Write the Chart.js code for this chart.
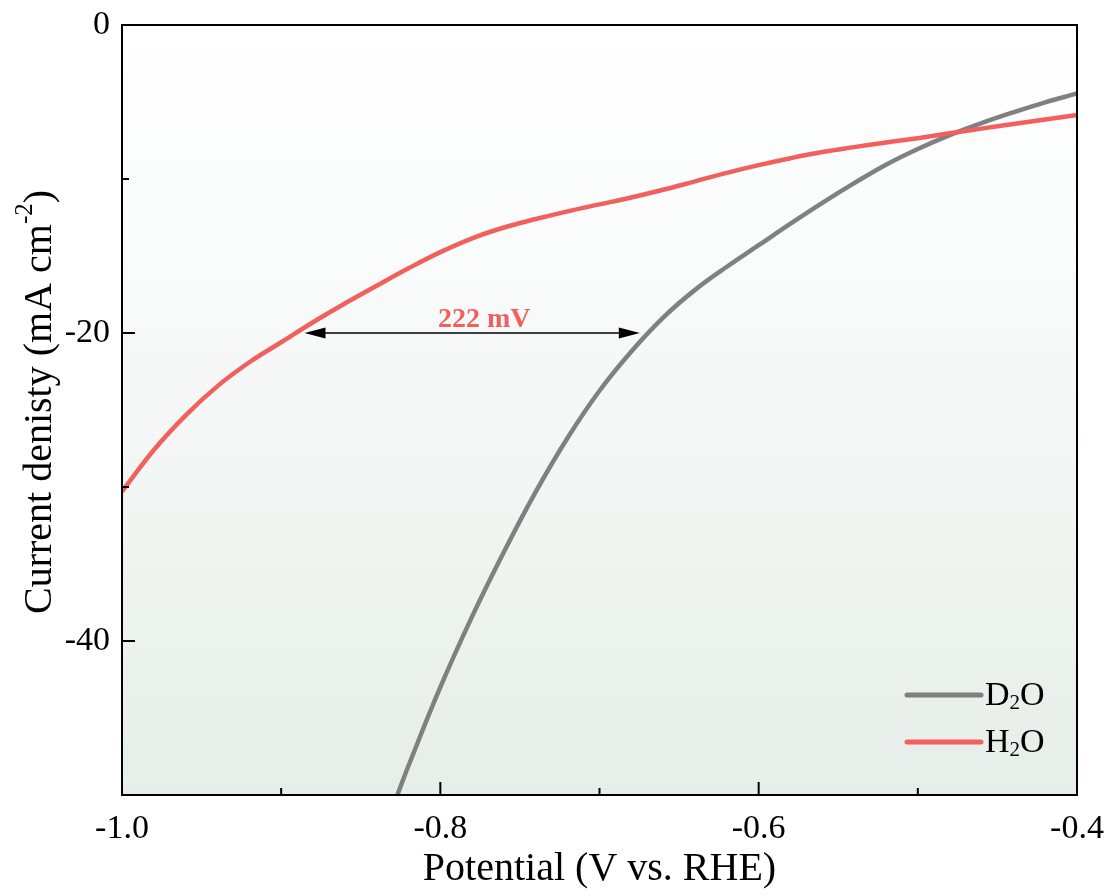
<!DOCTYPE html>
<html>
<head>
<meta charset="utf-8">
<title>LSV polarization curves in H2O and D2O</title>
<script src="https://cdn.jsdelivr.net/npm/chart.js@4.4.1/dist/chart.umd.min.js"></script>
<style>
  html, body { margin: 0; padding: 0; background: #ffffff; }
  #wrap { width: 1112px; height: 896px; }
</style>
</head>
<body>
<div id="wrap"><canvas id="lsv" width="1112" height="896"></canvas></div>
<script>
// Polarization data: potential (V vs. RHE) and current density (mA cm^-2)
const potentialD2O = [-0.827, -0.82, -0.80, -0.78, -0.76, -0.74, -0.72, -0.70, -0.68, -0.66,
                      -0.64, -0.62, -0.60, -0.58, -0.56, -0.54, -0.52, -0.50, -0.48, -0.46,
                      -0.44, -0.42, -0.40];
const currentD2O   = [-50.0, -48.1, -43.0, -38.4, -34.2, -30.3, -26.8, -23.75, -21.2, -19.0,
                      -17.2, -15.7, -14.3, -12.9, -11.55, -10.27, -9.07, -8.05, -7.15, -6.37,
                      -5.67, -5.02, -4.45];

const potentialH2O = [-1.00, -0.98, -0.96, -0.94, -0.92, -0.90, -0.88, -0.86, -0.84, -0.82,
                      -0.80, -0.78, -0.76, -0.74, -0.72, -0.70, -0.68, -0.66, -0.64, -0.62,
                      -0.60, -0.58, -0.56, -0.54, -0.52, -0.50, -0.48, -0.46, -0.44, -0.42, -0.40];
const currentH2O   = [-30.3, -27.6, -25.35, -23.45, -21.9, -20.6, -19.3, -18.08, -16.93, -15.8,
                      -14.75, -13.85, -13.15, -12.6, -12.1, -11.65, -11.2, -10.7, -10.15, -9.6,
                      -9.1, -8.65, -8.25, -7.93, -7.63, -7.35, -7.03, -6.73, -6.43, -6.13, -5.85];

const seriesLabels = ['D_2O', 'H_2O'];
const seriesColors = ['#808080', '#F2605D'];

// Axis ticks
const xMajorTicks = [-1.0, -0.8, -0.6, -0.4];
const xMinorTicks = [-0.9, -0.7, -0.5];
const yMajorTicks = [0, -20, -40];
const yMinorTicks = [-10, -30];

// Overpotential gap marked at -20 mA cm^-2
const gapStart = -0.891;   // V, where the H2O curve reaches gapLevel
const gapMV = 222;         // mV
const gapLevel = -20;      // mA cm^-2

const FONT = "'Liberation Serif', 'Times New Roman', serif";

function toPoints(xs, ys) { return xs.map((x, i) => ({ x: x, y: ys[i] })); }

// Draws text where "_2" makes a subscript and "^{-2}" a superscript
function richText(ctx, text, x, y, size, align) {
  const parts = [];
  const re = /_(\w)|\^\{([^}]*)\}/g;
  let last = 0, m;
  while ((m = re.exec(text)) !== null) {
    if (m.index > last) parts.push({ t: text.slice(last, m.index), k: 0 });
    if (m[1] !== undefined) parts.push({ t: m[1], k: 1 });
    else parts.push({ t: m[2], k: -1 });
    last = re.lastIndex;
  }
  if (last < text.length) parts.push({ t: text.slice(last), k: 0 });
  const small = Math.round(size * 0.62);
  let total = 0;
  parts.forEach(p => {
    ctx.font = (p.k === 0 ? size : small) + 'px ' + FONT;
    p.w = ctx.measureText(p.t).width;
    total += p.w;
  });
  let cx = align === 'center' ? x - total / 2 : (align === 'right' ? x - total : x);
  ctx.textAlign = 'left';
  parts.forEach(p => {
    ctx.font = (p.k === 0 ? size : small) + 'px ' + FONT;
    const dy = p.k === 1 ? size * 0.22 : (p.k === -1 ? -size * 0.36 : 0);
    ctx.fillText(p.t, cx, y + dy);
    cx += p.w;
  });
}

// Scales keep no extra room for overhanging labels; the layout padding covers it
function noScalePadding(s) {
  s.paddingTop = 0; s.paddingBottom = 0; s.paddingLeft = 0; s.paddingRight = 0;
}

const framePlugin = {
  id: 'frame',
  beforeDatasetsDraw(chart) {
    const { ctx, chartArea: a } = chart;
    const g = ctx.createLinearGradient(0, a.top, 0, a.bottom);
    g.addColorStop(0, '#ffffff');
    g.addColorStop(0.3, '#fafbfb');
    g.addColorStop(1, '#e6eee9');
    ctx.save();
    ctx.fillStyle = g;
    ctx.fillRect(a.left, a.top, a.right - a.left, a.bottom - a.top);
    ctx.restore();
  },
  afterDatasetsDraw(chart) {
    const { ctx, chartArea: a, scales } = chart;
    const xs = scales.x, ys = scales.y;
    ctx.save();

    // Overpotential arrow and label
    const x1 = xs.getPixelForValue(gapStart) + 9;
    const x2 = xs.getPixelForValue(gapStart + gapMV / 1000) - 9;
    const yy = ys.getPixelForValue(gapLevel);
    ctx.strokeStyle = '#000';
    ctx.fillStyle = '#000';
    ctx.lineWidth = 1.5;
    ctx.beginPath();
    ctx.moveTo(x1 + 10, yy);
    ctx.lineTo(x2 - 10, yy);
    ctx.stroke();
    ctx.beginPath();
    ctx.moveTo(x1, yy); ctx.lineTo(x1 + 21, yy - 5.5); ctx.lineTo(x1 + 21, yy + 5.5); ctx.closePath();
    ctx.fill();
    ctx.beginPath();
    ctx.moveTo(x2, yy); ctx.lineTo(x2 - 21, yy - 5.5); ctx.lineTo(x2 - 21, yy + 5.5); ctx.closePath();
    ctx.fill();
    ctx.fillStyle = seriesColors[1];
    ctx.font = 'bold 28px ' + FONT;
    ctx.textAlign = 'center';
    ctx.textBaseline = 'alphabetic';
    ctx.fillText(gapMV + ' mV', (x1 + x2) / 2 + 12, yy - 6);

    // Legend
    chart.data.datasets.forEach((ds, i) => {
      const ly = 695 + i * 47;
      ctx.strokeStyle = ds.borderColor;
      ctx.lineWidth = 5;
      ctx.lineCap = 'round';
      ctx.beginPath();
      ctx.moveTo(907, ly);
      ctx.lineTo(981, ly);
      ctx.stroke();
      ctx.fillStyle = '#000';
      ctx.textBaseline = 'middle';
      richText(ctx, ds.label, 985, ly + 1, 34, 'left');
    });

    // Inward tick marks on bottom and left axes
    ctx.strokeStyle = '#000';
    ctx.lineWidth = 2;
    ctx.lineCap = 'butt';
    ctx.beginPath();
    xMajorTicks.forEach(v => { const p = xs.getPixelForValue(v); ctx.moveTo(p, a.bottom); ctx.lineTo(p, a.bottom - 13); });
    xMinorTicks.forEach(v => { const p = xs.getPixelForValue(v); ctx.moveTo(p, a.bottom); ctx.lineTo(p, a.bottom - 7); });
    yMajorTicks.forEach(v => { const p = ys.getPixelForValue(v); ctx.moveTo(a.left, p); ctx.lineTo(a.left + 13, p); });
    yMinorTicks.forEach(v => { const p = ys.getPixelForValue(v); ctx.moveTo(a.left, p); ctx.lineTo(a.left + 7, p); });
    ctx.stroke();

    // Frame
    ctx.lineWidth = 2;
    ctx.strokeRect(a.left, a.top, a.right - a.left, a.bottom - a.top);

    // Y axis title
    ctx.translate(40, (a.top + a.bottom) / 2 - 8);
    ctx.rotate(-Math.PI / 2);
    ctx.fillStyle = '#000';
    ctx.textBaseline = 'middle';
    richText(ctx, 'Current denisty (mA cm^{-2})', 0, 0, 40, 'center');
    ctx.restore();
  }
};

new Chart(document.getElementById('lsv'), {
  type: 'scatter',
  data: {
    datasets: [
      { label: seriesLabels[0], data: toPoints(potentialD2O, currentD2O), showLine: true,
        borderColor: seriesColors[0], backgroundColor: seriesColors[0], borderWidth: 4.5,
        pointRadius: 0, tension: 0.4, order: 1 },
      { label: seriesLabels[1], data: toPoints(potentialH2O, currentH2O), showLine: true,
        borderColor: seriesColors[1], backgroundColor: seriesColors[1], borderWidth: 4.5,
        pointRadius: 0, tension: 0.4, order: 0 }
    ]
  },
  options: {
    responsive: false,
    animation: false,
    devicePixelRatio: 1,
    layout: { padding: { top: 25, right: 35, left: 0, bottom: 0 } },
    plugins: { legend: { display: false }, tooltip: { enabled: false } },
    scales: {
      x: {
        type: 'linear', min: -1.0, max: -0.4,
        afterBuildTicks: s => { s.ticks = xMajorTicks.map(v => ({ value: v })); },
        afterFit: s => { s.height = 101; noScalePadding(s); },
        grid: { display: false, drawTicks: false },
        border: { display: false },
        ticks: { callback: v => Number(v).toFixed(1), color: '#000', padding: 14,
                 font: { family: FONT, size: 34 }, maxRotation: 0, autoSkip: false },
        title: { display: true, text: 'Potential (V vs. RHE)', color: '#000',
                 font: { family: FONT, size: 40 }, padding: { top: 0, bottom: 3 } }
      },
      y: {
        type: 'linear', min: -50, max: 0,
        afterBuildTicks: s => { s.ticks = yMajorTicks.map(v => ({ value: v })); },
        afterFit: s => { s.width = 122; noScalePadding(s); },
        grid: { display: false, drawTicks: false },
        border: { display: false },
        ticks: { callback: v => String(v), color: '#000', padding: 12,
                 font: { family: FONT, size: 34 }, autoSkip: false }
      }
    }
  },
  plugins: [framePlugin]
});
</script>
</body>
</html>
